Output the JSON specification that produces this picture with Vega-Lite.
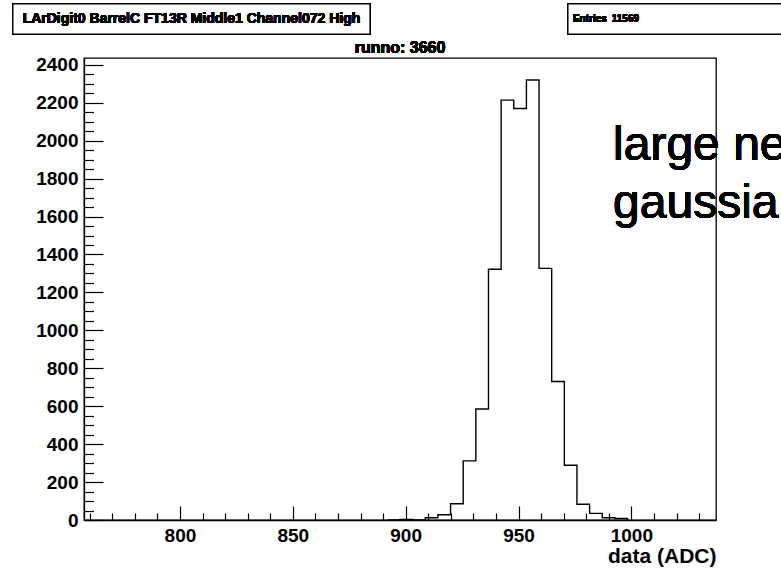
{
  "$schema": "https://vega.github.io/schema/vega-lite/v6.json",
  "width": 632,
  "height": 462,
  "autosize": {"type": "none"},
  "padding": {"left": 84, "top": 58, "right": 65, "bottom": 51},
  "background": "white",
  "config": {
    "view": {"stroke": "black", "strokeWidth": 1.3},
    "font": "Liberation Sans"
  },
  "resolve": {"axis": {"x": "independent", "y": "independent"}},
  "data": {
    "values": [
      {"bin_start": 891.9, "count": 0},
      {"bin_start": 897.5, "count": 3},
      {"bin_start": 903.1, "count": 0},
      {"bin_start": 908.7, "count": 12},
      {"bin_start": 914.3, "count": 28},
      {"bin_start": 919.9, "count": 86},
      {"bin_start": 925.5, "count": 312},
      {"bin_start": 931.1, "count": 585},
      {"bin_start": 936.7, "count": 1322},
      {"bin_start": 942.3, "count": 2214},
      {"bin_start": 947.9, "count": 2170},
      {"bin_start": 953.5, "count": 2320},
      {"bin_start": 959.1, "count": 1327},
      {"bin_start": 964.7, "count": 730},
      {"bin_start": 970.3, "count": 289},
      {"bin_start": 975.9, "count": 83},
      {"bin_start": 981.5, "count": 35},
      {"bin_start": 987.1, "count": 12},
      {"bin_start": 992.7, "count": 8},
      {"bin_start": 998.3, "count": 0}
    ]
  },
  "layer": [
    {
      "mark": {"type": "line", "interpolate": "step-after", "color": "black", "strokeOpacity": 0},
      "encoding": {
        "x": {
          "field": "bin_start",
          "type": "quantitative",
          "scale": {"domain": [757.5, 1037.5], "nice": false, "zero": false},
          "axis": {
            "orient": "bottom",
            "values": [760,770,780,790,810,820,830,840,860,870,880,890,910,920,930,940,960,970,980,990,1010,1020,1030],
            "labels": false,
            "domain": false,
            "grid": false,
            "tickSize": -7,
            "tickColor": "black",
            "tickWidth": 1.2,
            "title": null
          }
        },
        "y": {
          "field": "count",
          "type": "quantitative",
          "scale": {"domain": [0, 2436], "nice": false},
          "axis": {
            "orient": "left",
            "values": [50,100,150,250,300,350,450,500,550,650,700,750,850,900,950,1050,1100,1150,1250,1300,1350,1450,1500,1550,1650,1700,1750,1850,1900,1950,2050,2100,2150,2250,2300,2350],
            "labels": false,
            "domain": false,
            "grid": false,
            "tickSize": -9.5,
            "tickColor": "black",
            "tickWidth": 1.2,
            "title": null
          }
        }
      }
    },
    {
      "mark": {"type": "line", "interpolate": "step-after", "color": "black", "strokeWidth": 1.4},
      "encoding": {
        "x": {
          "field": "bin_start",
          "type": "quantitative",
          "scale": {"domain": [757.5, 1037.5], "nice": false, "zero": false},
          "axis": {
            "orient": "bottom",
            "values": [800, 850, 900, 950, 1000],
            "format": "d",
            "tickSize": -14,
            "tickColor": "black",
            "tickWidth": 1.2,
            "domainColor": "black",
            "domainWidth": 1.3,
            "grid": false,
            "labelFont": "Liberation Sans",
            "labelFontWeight": "bold",
            "labelFontSize": 19,
            "labelColor": "black",
            "labelPadding": 20,
            "labelFlush": false,
            "labelOverlap": false,
            "title": "data (ADC)",
            "titleFont": "Liberation Sans",
            "titleFontSize": 21,
            "titleFontWeight": "bold",
            "titleColor": "black",
            "titleAnchor": "end",
            "titlePadding": 0
          }
        },
        "y": {
          "field": "count",
          "type": "quantitative",
          "scale": {"domain": [0, 2436], "nice": false},
          "axis": {
            "orient": "left",
            "values": [0, 200, 400, 600, 800, 1000, 1200, 1400, 1600, 1800, 2000, 2200, 2400],
            "format": "d",
            "tickSize": -19,
            "tickColor": "black",
            "tickWidth": 1.2,
            "domainColor": "black",
            "domainWidth": 1.3,
            "grid": false,
            "labelFont": "Liberation Sans",
            "labelFontWeight": "bold",
            "labelFontSize": 19,
            "labelColor": "black",
            "labelPadding": 25,
            "labelFlush": false,
            "labelOverlap": false,
            "title": null
          }
        }
      }
    },
    {
      "mark": {"type": "rect", "fill": "white", "stroke": "black", "strokeWidth": 1.2},
      "encoding": {
        "x": {"datum": 726.0, "type": "quantitative", "scale": {"domain": [757.5, 1037.5], "nice": false, "zero": false}, "axis": null},
        "x2": {"datum": 884.2},
        "y": {"datum": 2720.7, "type": "quantitative", "scale": {"domain": [0, 2436], "nice": false}, "axis": null},
        "y2": {"datum": 2562.5}
      }
    },
    {
      "mark": {"type": "rect", "fill": "white", "stroke": "black", "strokeWidth": 1.2},
      "encoding": {
        "x": {"datum": 971.9, "type": "quantitative", "scale": {"domain": [757.5, 1037.5], "nice": false, "zero": false}, "axis": null},
        "x2": {"datum": 1078.4},
        "y": {"datum": 2720.7, "type": "quantitative", "scale": {"domain": [0, 2436], "nice": false}, "axis": null},
        "y2": {"datum": 2562.5}
      }
    },
    {
      "mark": {"type": "text", "font": "Liberation Sans", "fontWeight": "bold", "fontSize": 14, "align": "center", "baseline": "middle", "color": "black"},
      "encoding": {
        "x": {"datum": 805.1, "type": "quantitative", "scale": {"domain": [757.5, 1037.5], "nice": false, "zero": false}, "axis": null},
        "y": {"datum": 2641.6, "type": "quantitative", "scale": {"domain": [0, 2436], "nice": false}, "axis": null},
        "text": {"value": "LArDigit0 BarrelC FT13R Middle1 Channel072 High"}
      }
    },
    {
      "mark": {"type": "text", "font": "Liberation Sans", "fontWeight": "bold", "fontSize": 16, "align": "center", "baseline": "middle", "color": "black"},
      "encoding": {
        "x": {"datum": 897.5, "type": "quantitative", "scale": {"domain": [757.5, 1037.5], "nice": false, "zero": false}, "axis": null},
        "y": {"datum": 2488.7, "type": "quantitative", "scale": {"domain": [0, 2436], "nice": false}, "axis": null},
        "text": {"value": "runno: 3660"}
      }
    },
    {
      "mark": {"type": "text", "font": "Liberation Sans", "fontWeight": "bold", "fontSize": 10, "align": "left", "baseline": "middle", "color": "black"},
      "encoding": {
        "x": {"datum": 974.1, "type": "quantitative", "scale": {"domain": [757.5, 1037.5], "nice": false, "zero": false}, "axis": null},
        "y": {"datum": 2641.6, "type": "quantitative", "scale": {"domain": [0, 2436], "nice": false}, "axis": null},
        "text": {"value": "Entries"}
      }
    },
    {
      "mark": {"type": "text", "font": "Liberation Sans", "fontWeight": "bold", "fontSize": 10, "align": "right", "baseline": "middle", "color": "black"},
      "encoding": {
        "x": {"datum": 1003.4, "type": "quantitative", "scale": {"domain": [757.5, 1037.5], "nice": false, "zero": false}, "axis": null},
        "y": {"datum": 2641.6, "type": "quantitative", "scale": {"domain": [0, 2436], "nice": false}, "axis": null},
        "text": {"value": "11569"}
      }
    },
    {
      "mark": {"type": "text", "font": "Liberation Sans", "fontWeight": "normal", "fontSize": 48, "align": "left", "baseline": "alphabetic", "lineHeight": 58, "color": "black"},
      "encoding": {
        "x": {"datum": 991.9, "type": "quantitative", "scale": {"domain": [757.5, 1037.5], "nice": false, "zero": false}, "axis": null},
        "y": {"datum": 1898.2, "type": "quantitative", "scale": {"domain": [0, 2436], "nice": false}, "axis": null},
        "text": {"value": ["large ne", "gaussia"]}
      }
    }
  ]
}
